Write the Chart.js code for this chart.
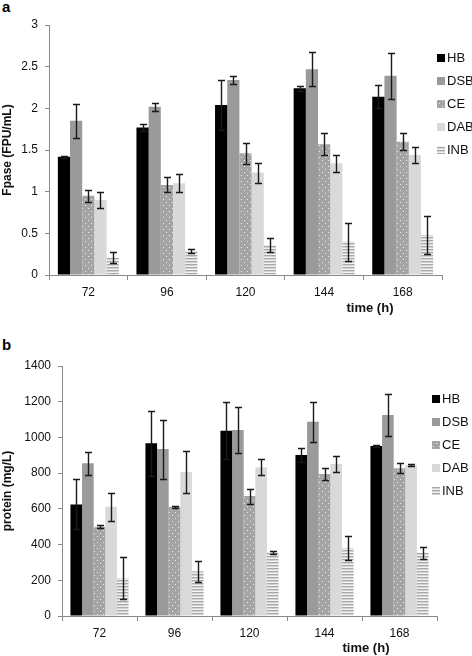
<!DOCTYPE html>
<html>
<head>
<meta charset="utf-8">
<script src="https://cdn.jsdelivr.net/npm/chart.js@4.4.1/dist/chart.umd.min.js"></script>
<style>
  body { margin: 0; background: #fff; font-family: "Liberation Sans", Arial, sans-serif; }
  #wrap { position: relative; width: 472px; height: 656px; }
  .panel { position: absolute; left: 0; width: 472px; }
  .tag { position: absolute; left: 2px; font-weight: bold; font-size: 15px; }
</style>
</head>
<body>
<div id="wrap">
  <div class="tag" style="top:-2px">a</div>
  <div class="panel" style="top:0;height:325px"><canvas id="chartA"></canvas></div>
  <div class="tag" style="top:336px">b</div>
  <div class="panel" style="top:325px;height:331px"><canvas id="chartB"></canvas></div>
</div>
<script>
// categorias (tempo em horas) e nomes das séries
const categories = ['72', '96', '120', '144', '168'];
const seriesNames = ['HB', 'DSB', 'CE', 'DAB', 'INB'];

// painel a - Fpase (FPU/mL)
const fpaseHB  = [1.42, 1.77, 2.04, 2.24, 2.14];
const fpaseDSB = [1.85, 2.02, 2.34, 2.47, 2.39];
const fpaseCE  = [0.95, 1.08, 1.46, 1.57, 1.60];
const fpaseDAB = [0.90, 1.10, 1.23, 1.34, 1.44];
const fpaseINB = [0.21, 0.29, 0.36, 0.40, 0.48];
const fpaseErrHB  = [0.01, 0.04, 0.30, 0.03, 0.14];
const fpaseErrDSB = [0.20, 0.05, 0.05, 0.20, 0.28];
const fpaseErrCE  = [0.07, 0.09, 0.13, 0.13, 0.10];
const fpaseErrDAB = [0.10, 0.11, 0.12, 0.10, 0.10];
const fpaseErrINB = [0.07, 0.02, 0.08, 0.23, 0.23];

// painel b - protein (mg/L)
const protHB  = [625, 967, 1038, 902, 952];
const protDSB = [855, 935, 1042, 1088, 1126];
const protCE  = [500, 612, 672, 795, 827];
const protDAB = [612, 806, 833, 851, 846];
const protINB = [211, 250, 357, 379, 355];
const protErrHB  = [140, 181, 159, 37, 3];
const protErrDSB = [65, 165, 130, 112, 118];
const protErrCE  = [9, 5, 42, 35, 28];
const protErrDAB = [78, 118, 45, 45, 7];
const protErrINB = [117, 57, 8, 67, 33];

const FONT = '"Liberation Sans", Arial, sans-serif';
const AXIS_GRAY = '#8a8a8a';

// texturas (CE pontilhado, INB listrado)
function makePattern(w, h, draw) {
  const c = document.createElement('canvas');
  c.width = w; c.height = h;
  draw(c.getContext('2d'));
  return c.getContext('2d').createPattern(c, 'repeat');
}
const dotPattern = makePattern(6, 6, function(g) {
  g.fillStyle = '#a4a4a4'; g.fillRect(0, 0, 6, 6);
  g.fillStyle = '#ececec';
  g.fillRect(1, 1, 1, 1);
  g.fillRect(4, 4, 1, 1);
});
const stripePattern = makePattern(3, 3, function(g) {
  g.fillStyle = '#f2f2f2'; g.fillRect(0, 0, 3, 3);
  g.fillStyle = '#a8a8a8'; g.fillRect(0, 0, 3, 1);
  g.fillStyle = '#d2d2d2'; g.fillRect(0, 1, 3, 1);
});
const fills = ['#000000', '#9a9a9a', dotPattern, '#d9d9d9', stripePattern];

// barras de erro desenhadas com a escala y do próprio gráfico
const errorBars = {
  id: 'errorBars',
  afterDatasetsDraw(chart) {
    const ctx = chart.ctx;
    const y = chart.scales.y;
    ctx.save();
    ctx.strokeStyle = '#1a1a1a';
    ctx.lineWidth = 1.4;
    chart.data.datasets.forEach(function(ds, i) {
      chart.getDatasetMeta(i).data.forEach(function(bar, j) {
        const v = ds.data[j], e = ds.errors[j];
        const top = Math.round(y.getPixelForValue(v + e)) + 0.5;
        const bot = Math.round(y.getPixelForValue(v - e)) + 0.5;
        const x = Math.round(bar.x) + 0.5;
        ctx.beginPath();
        ctx.moveTo(x, top); ctx.lineTo(x, bot);
        ctx.moveTo(x - 3.5, top); ctx.lineTo(x + 3.5, top);
        ctx.moveTo(x - 3.5, bot); ctx.lineTo(x + 3.5, bot);
        ctx.stroke();
      });
    });
    ctx.restore();
  }
};

// legenda e título do eixo x desenhados à mão
const extras = {
  id: 'extras',
  afterDraw(chart, args, opts) {
    const ctx = chart.ctx;
    const area = chart.chartArea;
    ctx.save();
    ctx.font = '13px ' + FONT;
    ctx.textBaseline = 'middle';
    chart.data.datasets.forEach(function(ds, i) {
      const ly = area.top + opts.legendTop + i * 23;
      const lx = area.right + opts.legendDx;
      ctx.fillStyle = ds.backgroundColor;
      ctx.fillRect(lx, ly - 4, 8, 8);
      ctx.fillStyle = '#111';
      ctx.fillText(ds.label, lx + 10, ly);
    });
    ctx.font = 'bold 13px ' + FONT;
    ctx.textAlign = 'center';
    ctx.fillText('time (h)', area.right + opts.titleDx, area.bottom + opts.titleDy);
    ctx.restore();
  }
};

function buildChart(id, series, errors, cfg) {
  const datasets = series.map(function(values, i) {
    return {
      label: seriesNames[i],
      data: values,
      errors: errors[i],
      backgroundColor: fills[i],
      borderWidth: 0,
      categoryPercentage: 0.775,
      barPercentage: 1.0
    };
  });

  return new Chart(document.getElementById(id), {
    type: 'bar',
    data: { labels: categories, datasets: datasets },
    plugins: [errorBars, extras],
    options: {
      responsive: true,
      maintainAspectRatio: false,
      animation: false,
      layout: { padding: { left: 0, top: cfg.padTop, right: cfg.padRight, bottom: cfg.padBottom } },
      plugins: {
        legend: { display: false },
        tooltip: { enabled: false },
        extras: cfg.extras
      },
      scales: {
        x: {
          grid: { offset: true, drawOnChartArea: false, color: AXIS_GRAY, tickLength: 5 },
          border: { color: AXIS_GRAY, width: 1 },
          ticks: { color: '#111', font: { family: FONT, size: 12 }, padding: 5, maxRotation: 0 },
          afterFit: function(s) { s.height = 30; }
        },
        y: {
          min: 0,
          max: cfg.yMax,
          grid: { drawOnChartArea: false, color: AXIS_GRAY, tickLength: 4 },
          border: { color: AXIS_GRAY, width: 1 },
          ticks: {
            stepSize: cfg.step,
            color: '#111',
            font: { family: FONT, size: 12 },
            padding: 7,
            callback: function(v) { return String(v); }
          },
          title: {
            display: true,
            text: cfg.yTitle,
            color: '#111',
            font: { family: FONT, size: 12, weight: 'bold' },
            padding: { top: 0, bottom: 0 }
          },
          afterFit: function(s) { s.width = cfg.yWidth; }
        }
      }
    }
  });
}

buildChart('chartA',
  [fpaseHB, fpaseDSB, fpaseCE, fpaseDAB, fpaseINB],
  [fpaseErrHB, fpaseErrDSB, fpaseErrCE, fpaseErrDAB, fpaseErrINB],
  { yMax: 3, step: 0.5, yTitle: 'Fpase (FPU/mL)', yWidth: 49,
    padTop: 25, padRight: 30, padBottom: 20,
    extras: { legendTop: 33, legendDx: -5, titleDx: -72, titleDy: 33 } });

buildChart('chartB',
  [protHB, protDSB, protCE, protDAB, protINB],
  [protErrHB, protErrDSB, protErrCE, protErrDAB, protErrINB],
  { yMax: 1400, step: 200, yTitle: 'protein (mg/L)', yWidth: 62,
    padTop: 41, padRight: 35, padBottom: 10,
    extras: { legendTop: 33, legendDx: -5, titleDx: -71, titleDy: 32 } });
</script>
</body>
</html>
